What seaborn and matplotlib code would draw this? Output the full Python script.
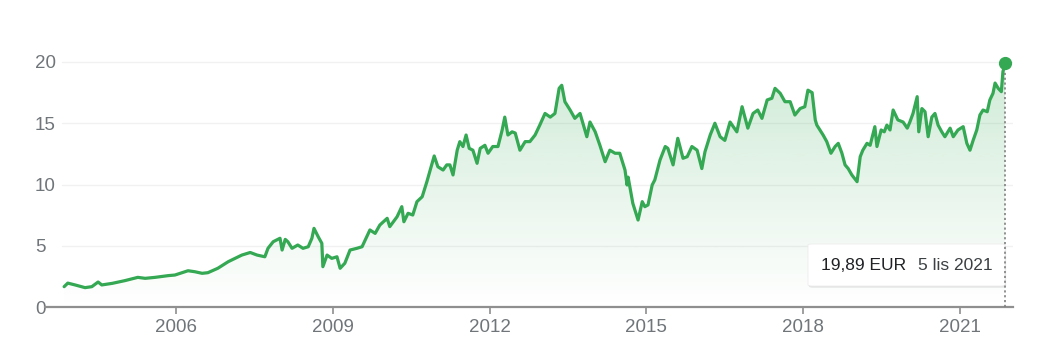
import numpy as np
import pandas as pd
import matplotlib
matplotlib.use("Agg")
import matplotlib.pyplot as plt
import matplotlib.patheffects as pe
from matplotlib.patches import FancyBboxPatch
import seaborn as sns

# ---- data ----
years = [2003.86, 2003.93, 2004.07, 2004.26, 2004.39, 2004.51, 2004.58, 2004.78, 2005.02, 2005.27,
         2005.41, 2005.60, 2005.85, 2005.98, 2006.23, 2006.36, 2006.50, 2006.61, 2006.80, 2007.00,
         2007.13, 2007.26, 2007.42, 2007.55, 2007.70, 2007.76, 2007.86, 2007.99, 2008.03, 2008.09,
         2008.14, 2008.22, 2008.33, 2008.43, 2008.53, 2008.60, 2008.64, 2008.72, 2008.79, 2008.81,
         2008.89, 2008.98, 2009.08, 2009.14, 2009.23, 2009.33, 2009.46, 2009.56, 2009.62, 2009.71,
         2009.81, 2009.90, 2010.04, 2010.09, 2010.23, 2010.32, 2010.36, 2010.44, 2010.53, 2010.61,
         2010.71, 2010.80, 2010.90, 2010.94, 2011.01, 2011.11, 2011.18, 2011.24, 2011.30, 2011.38,
         2011.43, 2011.49, 2011.55, 2011.61, 2011.68, 2011.76, 2011.82, 2011.91, 2011.97, 2012.06,
         2012.16, 2012.24, 2012.29, 2012.35, 2012.43, 2012.49, 2012.58, 2012.68, 2012.77, 2012.87,
         2012.96, 2013.06, 2013.16, 2013.25, 2013.33, 2013.38, 2013.44, 2013.54, 2013.63, 2013.73,
         2013.86, 2013.92, 2014.02, 2014.11, 2014.21, 2014.30, 2014.40, 2014.49, 2014.59, 2014.63,
         2014.65, 2014.74, 2014.84, 2014.92, 2014.97, 2015.03, 2015.11, 2015.16, 2015.26, 2015.36,
         2015.41, 2015.51, 2015.60, 2015.70, 2015.78, 2015.87, 2015.97, 2016.06, 2016.12, 2016.22,
         2016.31, 2016.41, 2016.50, 2016.60, 2016.73, 2016.83, 2016.94, 2017.04, 2017.13, 2017.21,
         2017.31, 2017.40, 2017.46, 2017.56, 2017.65, 2017.75, 2017.84, 2017.94, 2018.03, 2018.09,
         2018.17, 2018.23, 2018.26, 2018.32, 2018.38, 2018.45, 2018.53, 2018.61, 2018.67, 2018.74,
         2018.80, 2018.86, 2018.93, 2019.03, 2019.09, 2019.14, 2019.22, 2019.28, 2019.33, 2019.37,
         2019.41, 2019.49, 2019.55, 2019.60, 2019.66, 2019.72, 2019.81, 2019.91, 2019.99, 2020.04,
         2020.10, 2020.18, 2020.21, 2020.27, 2020.33, 2020.39, 2020.46, 2020.52, 2020.58, 2020.65,
         2020.71, 2020.81, 2020.87, 2020.96, 2021.06, 2021.13, 2021.19, 2021.25, 2021.32, 2021.38,
         2021.44, 2021.52, 2021.57, 2021.63, 2021.67, 2021.73, 2021.79, 2021.82, 2021.86]
prices = [1.66, 1.95, 1.80, 1.58, 1.66, 2.04, 1.80, 1.93, 2.15, 2.42,
          2.34, 2.42, 2.56, 2.61, 2.96, 2.88, 2.75, 2.80, 3.16, 3.70,
          3.97, 4.24, 4.45, 4.24, 4.10, 4.79, 5.33, 5.61, 4.65, 5.52,
          5.33, 4.79, 5.06, 4.79, 4.92, 5.61, 6.42, 5.74, 5.20, 3.29,
          4.24, 3.97, 4.10, 3.16, 3.57, 4.65, 4.79, 4.92, 5.47, 6.29,
          6.01, 6.69, 7.24, 6.56, 7.37, 8.19, 6.96, 7.65, 7.51, 8.60,
          9.00, 10.23, 11.73, 12.33, 11.45, 11.18, 11.60, 11.60, 10.78, 12.80,
          13.50, 13.10, 14.04, 12.95, 12.80, 11.73, 12.95, 13.20, 12.55, 13.10,
          13.10, 14.45, 15.50, 14.04, 14.30, 14.20, 12.80, 13.50, 13.50, 14.04,
          14.85, 15.80, 15.50, 15.80, 17.85, 18.10, 16.76, 16.08, 15.40, 15.80,
          13.90, 15.10, 14.30, 13.20, 11.86, 12.80, 12.55, 12.55, 11.18, 9.96,
          10.60, 8.46, 7.10, 8.60, 8.19, 8.33, 9.96, 10.37, 12.00, 13.10,
          12.95, 11.60, 13.77, 12.14, 12.27, 13.10, 12.80, 11.30, 12.67, 14.04,
          15.00, 13.90, 13.60, 15.10, 14.30, 16.35, 14.60, 15.80, 16.08, 15.40,
          16.90, 17.04, 17.85, 17.44, 16.76, 16.76, 15.67, 16.20, 16.35, 17.70,
          17.50, 15.27, 14.85, 14.45, 14.04, 13.50, 12.55, 13.10, 13.36, 12.55,
          11.60, 11.30, 10.78, 10.23, 12.27, 12.80, 13.36, 13.20, 14.04, 14.72,
          13.10, 14.45, 14.30, 14.85, 14.45, 16.08, 15.27, 15.10, 14.60, 15.10,
          15.80, 17.17, 14.30, 16.20, 15.94, 13.90, 15.50, 15.80, 14.85, 14.30,
          13.90, 14.60, 13.90, 14.45, 14.72, 13.36, 12.80, 13.60, 14.45, 15.67,
          16.08, 15.94, 16.90, 17.44, 18.28, 17.85, 17.58, 19.20, 19.89]
tick_years = [2006, 2009, 2012, 2015, 2018, 2021]
y_ticks = [0, 5, 10, 15, 20]
tooltip_price = "19,89 EUR"
tooltip_date = "5 lis 2021"

df = pd.DataFrame({"year": years, "price": prices})

GREEN = "#34a853"
GRAY_TXT = "#70757a"
AXIS_GRAY = "#8f8f8f"

sns.set_theme(style="white")
plt.rcParams["font.family"] = ["Liberation Sans", "DejaVu Sans"]

fig = plt.figure(figsize=(10.49, 3.59), dpi=100)
ax = fig.add_axes([45 / 1049, 52 / 359, 968 / 1049, 257.25 / 359])

x_lo, x_hi = 2003.494, 2022.013
ax.set_xlim(x_lo, x_hi)
ax.set_ylim(0, 21)

# light gridlines
for yv in y_ticks[1:]:
    ax.axhline(yv, xmin=17 / 968, xmax=1, color="#f1f1f1", lw=1.0, zorder=0)

# gradient fill under line
poly = ax.fill_between(df["year"], df["price"], 0, facecolor="none", edgecolor="none")
path = poly.get_paths()[0]
n = 256
alpha = np.linspace(0.25, 0.0, n).reshape(-1, 1)
rgb = np.array(matplotlib.colors.to_rgb(GREEN))
img = np.zeros((n, 1, 4))
img[..., :3] = rgb
img[..., 3] = alpha
im = ax.imshow(img, extent=[x_lo, x_hi, 0, 21], aspect="auto", origin="upper", zorder=1)
im.set_clip_path(path, transform=ax.transData)

sns.lineplot(data=df, x="year", y="price", color=GREEN, lw=2.3, ax=ax, zorder=3)

last = df.iloc[-1]
ax.plot([last["year"], last["year"]], [0, last["price"]], color="#808080", lw=1.2,
        linestyle=(0, (1.3, 1.6)), zorder=5)
ax.plot([last["year"]], [last["price"]], "o", color=GREEN, markersize=8.5, zorder=6)

# axes styling
for s in ["top", "right", "left"]:
    ax.spines[s].set_visible(False)
ax.spines["bottom"].set_color(AXIS_GRAY)
ax.spines["bottom"].set_linewidth(1.6)
ax.set_xticks(tick_years)
ax.set_xticklabels([str(t) for t in tick_years])
ax.set_yticks(y_ticks)
ax.set_yticklabels([str(t) for t in y_ticks])
ax.tick_params(axis="x", bottom=True, length=5, width=1.2, color=AXIS_GRAY,
               labelcolor=GRAY_TXT, labelsize=13.5, pad=4)
ax.tick_params(axis="y", left=False, length=0, labelcolor=GRAY_TXT, labelsize=13.5, pad=7.2)
for lab in ax.get_yticklabels():
    lab.set_horizontalalignment("left")
ax.set_xlabel("")
ax.set_ylabel("")

# tooltip box
bx0, bx1 = (808 - 45) / 968, (1005 - 45) / 968
by0, by1 = (307 - 286) / 257.25, (307 - 244) / 257.25
box = FancyBboxPatch((bx0, by0), bx1 - bx0, by1 - by0, transform=ax.transAxes,
                     boxstyle="round,pad=0,rounding_size=0.004", facecolor="white",
                     edgecolor="#ececec", lw=0.6, zorder=4,
                     path_effects=[pe.SimplePatchShadow(offset=(0.8, -1.2), shadow_rgbFace="#999999", alpha=0.25),
                                   pe.Normal()])
ax.add_patch(box)
ty = (307 - 265) / 257.25
ax.text((821 - 45) / 968, ty, tooltip_price, transform=ax.transAxes, ha="left", va="center",
        fontsize=12.5, color="#202124", zorder=7)
ax.text((918 - 45) / 968, ty, tooltip_date, transform=ax.transAxes, ha="left", va="center",
        fontsize=12.5, color="#3c4043", zorder=7)

fig.savefig("out.png", dpi=100)
